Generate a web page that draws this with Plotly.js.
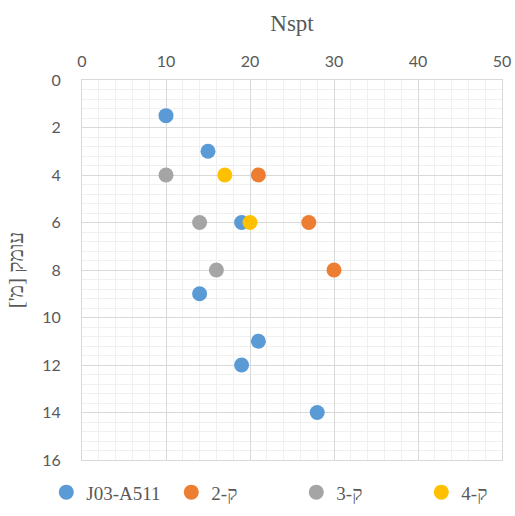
<!DOCTYPE html>
<html>
<head>
<meta charset="utf-8">
<script src="https://cdn.plot.ly/plotly-3.0.1.min.js"></script>
<style>html,body{margin:0;padding:0;background:#fff}#chart{width:515px;height:516px}</style>
</head>
<body>
<div id="chart"></div>
<script>
const seriesNames = ["J03-A511", "ק-2", "ק-3", "ק-4"];
const seriesColors = ["#5B9BD5", "#ED7D31", "#A5A5A5", "#FFC000"];
const nsptJ03 = [10, 15, 19, 14, 21, 19, 28];
const depthJ03 = [1.5, 3, 6, 9, 11, 12, 14];
const nsptK2 = [21, 27, 30];
const depthK2 = [4, 6, 8];
const nsptK3 = [10, 14, 16];
const depthK3 = [4, 6, 8];
const nsptK4 = [17, 20];
const depthK4 = [4, 6];
const xTicks = [0, 10, 20, 30, 40, 50];
const yTicks = [0, 2, 4, 6, 8, 10, 12, 14, 16];

const xs = [nsptJ03, nsptK2, nsptK3, nsptK4];
const ys = [depthJ03, depthK2, depthK3, depthK4];
const traces = seriesNames.map((n, i) => ({
  type: 'scatter', mode: 'markers', name: n,
  x: xs[i], y: ys[i],
  marker: {color: seriesColors[i], size: 15},
  cliponaxis: false
}));

const tickFont = {family: 'Lato, "Open Sans", sans-serif', size: 16, color: '#595959'};
const layout = {
  width: 515, height: 516,
  margin: {l: 82, r: 13, t: 80, b: 56, autoexpand: false},
  paper_bgcolor: '#fff', plot_bgcolor: '#fff',
  showlegend: true,
  legend: {orientation: 'h', x: -0.085, xanchor: 'left', y: -0.035, yanchor: 'top',
    font: {family: '"Liberation Serif", serif', size: 19, color: '#595959'},
    itemwidth: 30, entrywidth: 80, entrywidthmode: 'pixels', traceorder: 'normal'},
  xaxis: {
    side: 'top', range: [0, 50], tickvals: xTicks, ticktext: xTicks.map(String),
    showgrid: true, gridcolor: '#d9d9d9', gridwidth: 1,
    minor: {dtick: 2, showgrid: true, gridcolor: '#f0f0f0', gridwidth: 1},
    zeroline: false, showline: true, linecolor: '#d9d9d9', mirror: true,
    ticks: '', tickfont: tickFont, ticklabelstandoff: 6,
    title: {text: 'Nspt', font: {family: '"Liberation Serif", serif', size: 23, color: '#595959'}, standoff: 12},
    fixedrange: true
  },
  yaxis: {
    range: [16, 0], tickvals: yTicks, ticktext: yTicks.map(String),
    showgrid: true, gridcolor: '#d9d9d9', gridwidth: 1,
    minor: {dtick: 0.4, showgrid: true, gridcolor: '#f0f0f0', gridwidth: 1},
    zeroline: false, showline: true, linecolor: '#d9d9d9', mirror: true,
    ticks: '', tickfont: tickFont, ticklabelstandoff: 17,
    title: {text: "עומק [מ']", font: {family: '"Liberation Serif", serif', size: 21, color: '#595959'}, standoff: 12},
    fixedrange: true
  }
};
Plotly.newPlot('chart', traces, layout, {displayModeBar: false, staticPlot: true});
</script>
</body>
</html>
